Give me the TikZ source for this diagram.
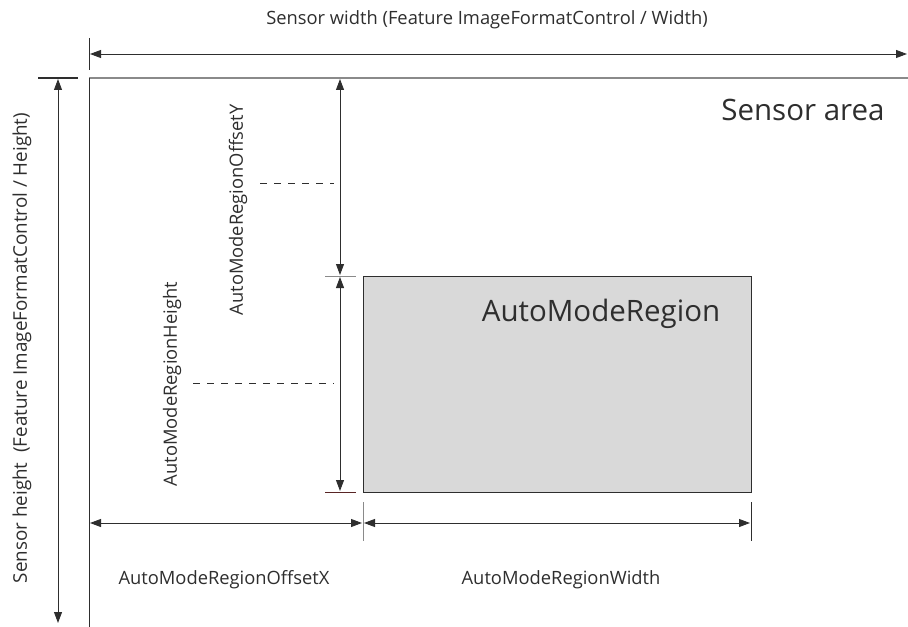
\documentclass[tikz,border=0pt]{standalone}
\usepackage{fontspec}
\setmainfont{Open Sans}
\usetikzlibrary{arrows.meta}
\definecolor{ink}{HTML}{2E2E2E}
\definecolor{grayline}{HTML}{8A8A8A}
\definecolor{regionfill}{HTML}{D9D9D9}
\tikzset{
  dim/.style={draw=ink, line width=0.9bp, {Triangle[length=11bp,width=8bp]}-{Triangle[length=11bp,width=8bp]}},
  tickline/.style={draw=grayline, line width=1bp},
  guide/.style={draw=ink, line width=0.8bp, dash pattern=on 7bp off 7bp},
  lbl/.style={text=ink, font=\fontsize{18.4}{21}\selectfont, inner sep=0pt},
  biglbl/.style={text=ink, font=\fontsize{29.6}{33}\selectfont, inner sep=0pt}
}
\begin{document}
\begin{tikzpicture}[x=1bp,y=-1bp]
\useasboundingbox (0,0) rectangle (908,627);
% sensor area border
\coordinate (saTL) at (89,78);
\coordinate (saTR) at (908,78);
\coordinate (saBL) at (89,627);
\draw[grayline, line width=1.6bp] (saTL) -- (saTR);
\draw[ink, line width=1bp] (saTL) -- (saBL);
% region
\node[draw=ink, fill=regionfill, line width=1bp, minimum width=388bp, minimum height=216bp, anchor=north west, inner sep=0pt] (reg) at (363,276) {};
\node[biglbl] (regl) at (601,314) {AutoModeRegion};
\node[biglbl] (sal) at (803,110) {Sensor area};
% sensor width
\coordinate (swt1) at (89,38); \coordinate (swt2) at (89,70);
\draw[ink, line width=1bp] (swt1) -- (swt2);
\coordinate (swa) at (90,54); \coordinate (swb) at (907,54);
\draw[dim] (swa) -- (swb);
\node[lbl] (swl) at (487,20) {Sensor width (Feature ImageFormatControl / Width)};
% sensor height
\coordinate (sht1) at (38,78); \coordinate (sht2) at (78,78);
\draw[ink, line width=1.4bp] (sht1) -- (sht2);
\coordinate (sha) at (58,79); \coordinate (shb) at (58,623);
\draw[dim] (sha) -- (shb);
\node[lbl, font=\fontsize{18.9}{21}\selectfont, rotate=90] (shl) at (22,348) {Sensor height~ (Feature ImageFormatControl / Height)};
% offset Y
\coordinate (oya) at (340,79); \coordinate (oyb) at (340,275);
\draw[dim] (oya) -- (oyb);
\coordinate (t1a) at (325,276); \coordinate (t1b) at (356,276);
\draw[tickline] (t1a) -- (t1b);
\node[lbl, rotate=90] (oyl) at (238,210) {AutoModeRegionOffsetY};
\coordinate (gya) at (260,183); \coordinate (gyb) at (334,183);
\draw[guide] (gya) -- (gyb);
% height
\coordinate (rha) at (340,277); \coordinate (rhb) at (340,491);
\draw[dim] (rha) -- (rhb);
\coordinate (t2a) at (325,492); \coordinate (t2b) at (356,492);
\draw[draw=ink!80!red, line width=0.9bp] (t2a) -- (t2b);
\node[lbl, rotate=90] (rhl) at (172,384) {AutoModeRegionHeight};
\coordinate (gha) at (193,383); \coordinate (ghb) at (334,383);
\draw[guide] (gha) -- (ghb);
% offset X
\coordinate (oxa) at (90,523); \coordinate (oxb) at (362,523);
\draw[dim] (oxa) -- (oxb);
\coordinate (t3a) at (363,502); \coordinate (t3b) at (363,541);
\draw[tickline] (t3a) -- (t3b);
\node[lbl] (oxl) at (224,580) {AutoModeRegionOffsetX};
% width
\coordinate (rwa) at (364,523); \coordinate (rwb) at (750,523);
\draw[dim] (rwa) -- (rwb);
\coordinate (t4a) at (751,502); \coordinate (t4b) at (751,541);
\draw[ink, line width=1bp] (t4a) -- (t4b);
\node[lbl] (rwl) at (561,580) {AutoModeRegionWidth};
\end{tikzpicture}
\end{document}
